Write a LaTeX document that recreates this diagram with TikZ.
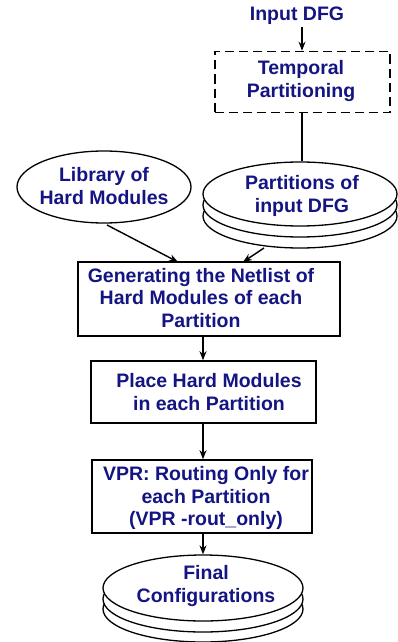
\documentclass[tikz,border=0pt]{standalone}
\usepackage{fontspec}
\setmainfont{Liberation Sans}
\usetikzlibrary{shapes.geometric,arrows.meta}
\definecolor{txt}{RGB}{20,20,130}
\begin{document}
\begin{tikzpicture}[x=1pt,y=-1pt,
  lbl/.style={text=txt,font=\fontsize{19.5}{22.5}\selectfont\bfseries,align=center,inner sep=0pt},
  boxnode/.style={draw,line width=1.6pt,fill=white},
  ell/.style={draw,line width=1.3pt,fill=white,ellipse,inner sep=0pt},
  arr/.style={line width=1.4pt,-{Stealth[length=9pt,width=7pt]}}]
\useasboundingbox (0,0) rectangle (397,642);
% Input
\node[lbl] (in) at (297,16) {Input DFG};
% Temporal partitioning
\node[draw,line width=1.6pt,dash pattern=on 9pt off 5pt,minimum width=175pt,minimum height=61pt,inner sep=0pt] (tp) at (302.5,82) {};
\node[lbl] (tpt) at (301,81) {Temporal\\Partitioning};
% Library
\node[ell,minimum width=174pt,minimum height=72pt] (lib) at (104,187) {};
\node[lbl] (libt) at (104,186) {Library of\\Hard Modules};
% Partitions stack
\node[ell,minimum width=194pt,minimum height=64pt] (p3) at (300,216) {};
\node[ell,minimum width=194pt,minimum height=64pt] (p2) at (300,205) {};
\node[ell,minimum width=194pt,minimum height=64pt] (p1) at (300,194) {};
\node[lbl] (pt) at (302,196) {Partitions of\\input DFG};
% Box 1
\node[boxnode,minimum width=262pt,minimum height=74pt] (b1) at (209,299) {};
\node[lbl] (b1t) at (201,298) {Generating the Netlist of\\Hard Modules of each\\Partition};
% Box 2
\node[boxnode,minimum width=225pt,minimum height=62pt] (b2) at (203.5,392) {};
\node[lbl] (b2t) at (209,392) {Place Hard Modules\\in each Partition};
% Box 3
\node[boxnode,minimum width=220pt,minimum height=73pt] (b3) at (202,496.5) {};
\node[lbl] (b3t) at (206,498) {VPR: Routing Only for\\each Partition\\(VPR -rout\_only)};
% Final stack
\node[ell,minimum width=200pt,minimum height=66pt] (f3) at (203,609) {};
\node[ell,minimum width=200pt,minimum height=66pt] (f2) at (203,599) {};
\node[ell,minimum width=200pt,minimum height=66pt] (f1) at (203,588) {};
\node[lbl] (ft) at (206,586) {Final\\Configurations};
% connectors
\coordinate (a0) at (302,27);
\draw[arr] (a0) -- (tp.north -| a0);
\draw[line width=1.4pt] (tp.south -| a0) -- (p1.north -| a0);
\coordinate (ls) at (107,225);
\coordinate (le) at (178,262);
\draw[arr] (ls) -- (le);
\coordinate (ps) at (264,248);
\coordinate (pe) at (243,262);
\draw[arr] (ps) -- (pe);
\coordinate (c1) at (203,336);
\draw[arr] (b1.south -| c1) -- (b2.north -| c1);
\draw[arr] (b2.south -| c1) -- (b3.north -| c1);
\draw[arr] (b3.south -| c1) -- (f1.north -| c1);
\end{tikzpicture}
\end{document}
